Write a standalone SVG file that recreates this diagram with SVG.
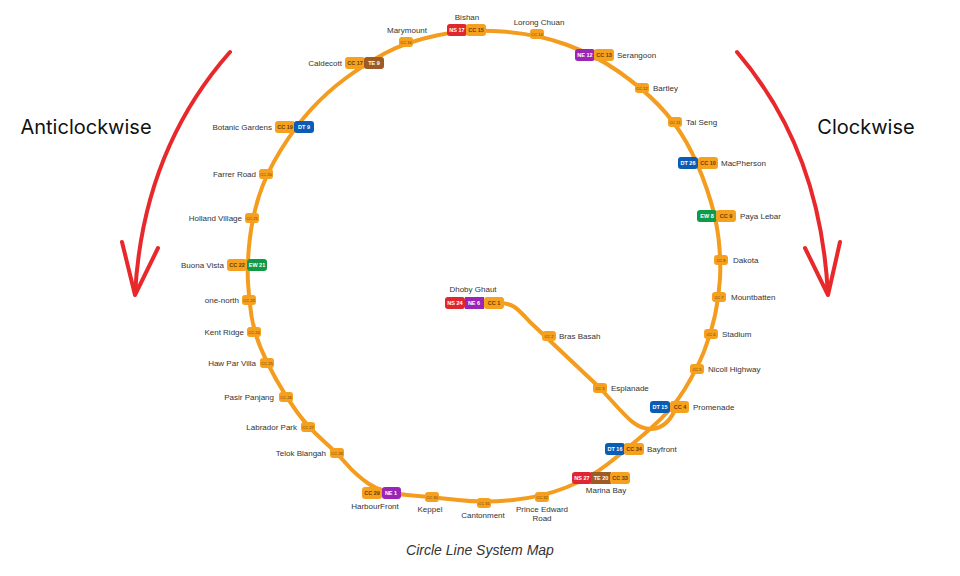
<svg xmlns="http://www.w3.org/2000/svg" width="960" height="576" viewBox="0 0 960 576">
<style>
.l{fill:none;stroke:#f39c1e;stroke-width:4;stroke-linejoin:round;stroke-linecap:round}
.cc{fill:#f5a01f}.ns{fill:#e0262e}.ne{fill:#9b26b6}.dt{fill:#0b5cb5}.ew{fill:#109a48}.te{fill:#9d5b25}
.t{font-family:"Liberation Sans",Arial,sans-serif;font-size:8px;fill:#333}
.b{font-family:"Liberation Sans",Arial,sans-serif;font-size:5.5px;font-weight:bold;fill:#fff;text-anchor:middle}
.bc{font-family:"Liberation Sans",Arial,sans-serif;font-size:5.5px;font-weight:bold;fill:#6b3f00;text-anchor:middle}
.s{font-family:"Liberation Sans",Arial,sans-serif;font-size:4px;fill:#6b3f00;text-anchor:middle}
.big{font-family:Inter,"Liberation Sans",sans-serif;font-size:20px;fill:#111}
.arr{fill:none;stroke:#e8282b;stroke-width:4;stroke-linecap:round;stroke-linejoin:round}
</style>
<rect width="960" height="576" fill="#fff"/>
<g id="connectors">
<path class="l" d="M502,31.5 Q537,34 566,44.5 Q595,55 618.5,71.5 Q642,88 658.5,105 Q675,122 686.5,142.5 Q698,163 707,189.5 Q716,216 718.5,238 Q721,260 720,278.5 Q719,297 715,315.5 Q711,334 704,351.5 Q697,369 684.5,389.5 Q672,410 649.5,429.5 Q627,449 608.5,463.5 Q590,478 566,487.5 Q542,497 513,500 Q484,503 458,500 Q432,497 407,495 Q382,493 369,484 Q356,475 346.5,464 Q337,453 322.5,440 Q308,427 297,412 Q286,397 276.5,380 Q267,363 260.5,347.5 Q254,332 251.5,316 Q249,300 248,282.5 Q247,265 249.5,241.5 Q252,218 259,196 Q266,174 280.5,150.5 Q295,127 311,109.5 Q327,92 346,78 Q365,64 385.5,53 Q406,42 436.5,35.5 Q467,29 502,31.5 Z"/>
<path class="l" d="M500,303 C515,303 520,312 530,322 L600,388 C625,415 635,430 652,429 C663,428 670,420 674,412"/>
<path class="arr" d="M230,52 C170,120 140,200 135,295 M122,242 L135,295 L158,248"/>
<path class="arr" d="M737,52 C795,120 823,200 828,295 M805,248 L828,295 L840,242"/>
</g>
<text class="big" x="86" y="134" text-anchor="middle">Anticlockwise</text>
<text class="big" x="866" y="134" text-anchor="middle">Clockwise</text>
<text x="480" y="555" text-anchor="middle" style="font-family:'Liberation Sans',Arial,sans-serif;font-size:14px;font-style:italic;fill:#333">Circle Line System Map</text>

<g id="dhoby-ghaut"><rect class="ns" x="445" y="297" width="20" height="12" rx="3"/><rect class="ne" x="465" y="297" width="19" height="12"/><rect class="cc" x="484" y="297" width="20" height="12" rx="3"/><text class="b" x="455" y="305">NS 24</text><text class="b" x="474" y="305">NE 6</text><text class="bc" x="494" y="305">CC 1</text><text class="t" x="473" y="292" text-anchor="middle">Dhoby Ghaut</text></g>
<g id="bras-basah"><rect class="cc" x="542" y="331" width="14" height="10" rx="3"/><text class="s" x="549" y="337.5">CC 2</text><text class="t" x="559" y="339">Bras Basah</text></g>
<g id="esplanade"><rect class="cc" x="593" y="383" width="14" height="10" rx="3"/><text class="s" x="600" y="389.5">CC 3</text><text class="t" x="611" y="391">Esplanade</text></g>
<g id="promenade"><rect class="dt" x="650" y="401" width="20" height="12" rx="3"/><rect class="cc" x="670" y="401" width="19" height="12" rx="3"/><text class="b" x="660" y="409">DT 15</text><text class="bc" x="680" y="409">CC 4</text><text class="t" x="693" y="410">Promenade</text></g>
<g id="nicoll-highway"><rect class="cc" x="690" y="364" width="14" height="10" rx="3"/><text class="s" x="697" y="370.5">CC 5</text><text class="t" x="708" y="372">Nicoll Highway</text></g>
<g id="stadium"><rect class="cc" x="704" y="329" width="14" height="10" rx="3"/><text class="s" x="711" y="335.5">CC 6</text><text class="t" x="722" y="337">Stadium</text></g>
<g id="mountbatten"><rect class="cc" x="712" y="292" width="14" height="10" rx="3"/><text class="s" x="719" y="298.5">CC 7</text><text class="t" x="731" y="300">Mountbatten</text></g>
<g id="dakota"><rect class="cc" x="714" y="255" width="14" height="10" rx="3"/><text class="s" x="721" y="261.5">CC 8</text><text class="t" x="733" y="263">Dakota</text></g>
<g id="paya-lebar"><rect class="ew" x="697" y="210" width="20" height="12" rx="3"/><rect class="cc" x="716" y="210" width="20" height="12" rx="3"/><text class="b" x="707" y="218">EW 8</text><text class="bc" x="726" y="218">CC 9</text><text class="t" x="740" y="219">Paya Lebar</text></g>
<g id="macpherson"><rect class="dt" x="678" y="157" width="20" height="12" rx="3"/><rect class="cc" x="698" y="157" width="20" height="12" rx="3"/><text class="b" x="688" y="165">DT 26</text><text class="bc" x="708" y="165">CC 10</text><text class="t" x="721" y="166">MacPherson</text></g>
<g id="tai-seng"><rect class="cc" x="668" y="117" width="14" height="10" rx="3"/><text class="s" x="675" y="123.5">CC 11</text><text class="t" x="686" y="125">Tai Seng</text></g>
<g id="bartley"><rect class="cc" x="635" y="83" width="14" height="10" rx="3"/><text class="s" x="642" y="89.5">CC 12</text><text class="t" x="653" y="91">Bartley</text></g>
<g id="serangoon"><rect class="ne" x="575" y="49" width="20" height="12" rx="3"/><rect class="cc" x="594" y="49" width="20" height="12" rx="3"/><text class="b" x="585" y="57">NE 12</text><text class="bc" x="604" y="57">CC 13</text><text class="t" x="617" y="58">Serangoon</text></g>
<g id="lorong-chuan"><rect class="cc" x="530" y="29" width="14" height="10" rx="3"/><text class="s" x="537" y="35.5">CC 14</text><text class="t" x="539" y="25" text-anchor="middle">Lorong Chuan</text></g>
<g id="bishan"><rect class="ns" x="447" y="24" width="20" height="12" rx="3"/><rect class="cc" x="466" y="24" width="20" height="12" rx="3"/><text class="b" x="457" y="32">NS 17</text><text class="bc" x="476" y="32">CC 15</text><text class="t" x="467" y="20" text-anchor="middle">Bishan</text></g>
<g id="marymount"><rect class="cc" x="399" y="37" width="14" height="10" rx="3"/><text class="s" x="406" y="43.5">CC 16</text><text class="t" x="407" y="33" text-anchor="middle">Marymount</text></g>
<g id="caldecott"><rect class="cc" x="345" y="57" width="20" height="12" rx="3"/><rect class="te" x="364" y="57" width="20" height="12" rx="3"/><text class="bc" x="355" y="65">CC 17</text><text class="b" x="374" y="65">TE 9</text><text class="t" x="342" y="66" text-anchor="end">Caldecott</text></g>
<g id="botanic-gardens"><rect class="cc" x="275" y="121" width="20" height="12" rx="3"/><rect class="dt" x="294" y="121" width="20" height="12" rx="3"/><text class="bc" x="285" y="129">CC 19</text><text class="b" x="304" y="129">DT 9</text><text class="t" x="272" y="130" text-anchor="end">Botanic Gardens</text></g>
<g id="farrer-road"><rect class="cc" x="259" y="169" width="14" height="10" rx="3"/><text class="s" x="266" y="175.5">CC 20</text><text class="t" x="256" y="177" text-anchor="end">Farrer Road</text></g>
<g id="holland-village"><rect class="cc" x="245" y="213" width="14" height="10" rx="3"/><text class="s" x="252" y="219.5">CC 21</text><text class="t" x="242" y="221" text-anchor="end">Holland Village</text></g>
<g id="buona-vista"><rect class="cc" x="227" y="259" width="20" height="12" rx="3"/><rect class="ew" x="247" y="259" width="20" height="12" rx="3"/><text class="bc" x="237" y="267">CC 22</text><text class="b" x="257" y="267">EW 21</text><text class="t" x="224" y="268" text-anchor="end">Buona Vista</text></g>
<g id="one-north"><rect class="cc" x="242" y="295" width="14" height="10" rx="3"/><text class="s" x="249" y="301.5">CC 23</text><text class="t" x="239" y="303" text-anchor="end">one-north</text></g>
<g id="kent-ridge"><rect class="cc" x="247" y="327" width="14" height="10" rx="3"/><text class="s" x="254" y="333.5">CC 24</text><text class="t" x="244" y="335" text-anchor="end">Kent Ridge</text></g>
<g id="haw-par-villa"><rect class="cc" x="260" y="358" width="14" height="10" rx="3"/><text class="s" x="267" y="364.5">CC 25</text><text class="t" x="256" y="366" text-anchor="end">Haw Par Villa</text></g>
<g id="pasir-panjang"><rect class="cc" x="279" y="392" width="14" height="10" rx="3"/><text class="s" x="286" y="398.5">CC 26</text><text class="t" x="274" y="400" text-anchor="end">Pasir Panjang</text></g>
<g id="labrador-park"><rect class="cc" x="301" y="422" width="14" height="10" rx="3"/><text class="s" x="308" y="428.5">CC 27</text><text class="t" x="297" y="430" text-anchor="end">Labrador Park</text></g>
<g id="telok-blangah"><rect class="cc" x="330" y="448" width="14" height="10" rx="3"/><text class="s" x="337" y="454.5">CC 28</text><text class="t" x="326" y="456" text-anchor="end">Telok Blangah</text></g>
<g id="harbourfront"><rect class="cc" x="362" y="487" width="20" height="12" rx="3"/><rect class="ne" x="382" y="487" width="19" height="12" rx="3"/><text class="bc" x="372" y="495">CC 29</text><text class="b" x="391" y="495">NE 1</text><text class="t" x="375" y="509" text-anchor="middle">HarbourFront</text></g>
<g id="keppel"><rect class="cc" x="425" y="492" width="14" height="10" rx="3"/><text class="s" x="432" y="498.5">CC 30</text><text class="t" x="430" y="512" text-anchor="middle">Keppel</text></g>
<g id="cantonment"><rect class="cc" x="477" y="498" width="14" height="10" rx="3"/><text class="s" x="484" y="504.5">CC 31</text><text class="t" x="483" y="518" text-anchor="middle">Cantonment</text></g>
<g id="prince-edward-road"><rect class="cc" x="535" y="492" width="14" height="10" rx="3"/><text class="s" x="542" y="498.5">CC 32</text><text class="t" x="542" y="512" text-anchor="middle">Prince Edward</text><text class="t" x="542" y="521" text-anchor="middle">Road</text></g>
<g id="marina-bay"><rect class="ns" x="572" y="472" width="20" height="12" rx="3"/><rect class="te" x="591" y="472" width="20" height="12"/><rect class="cc" x="610" y="472" width="20" height="12" rx="3"/><text class="b" x="582" y="480">NS 27</text><text class="b" x="601" y="480">TE 20</text><text class="bc" x="620" y="480">CC 33</text><text class="t" x="606" y="493" text-anchor="middle">Marina Bay</text></g>
<g id="bayfront"><rect class="dt" x="605" y="443" width="20" height="12" rx="3"/><rect class="cc" x="624" y="443" width="20" height="12" rx="3"/><text class="b" x="615" y="451">DT 16</text><text class="bc" x="634" y="451">CC 34</text><text class="t" x="647" y="452">Bayfront</text></g>
</svg>
